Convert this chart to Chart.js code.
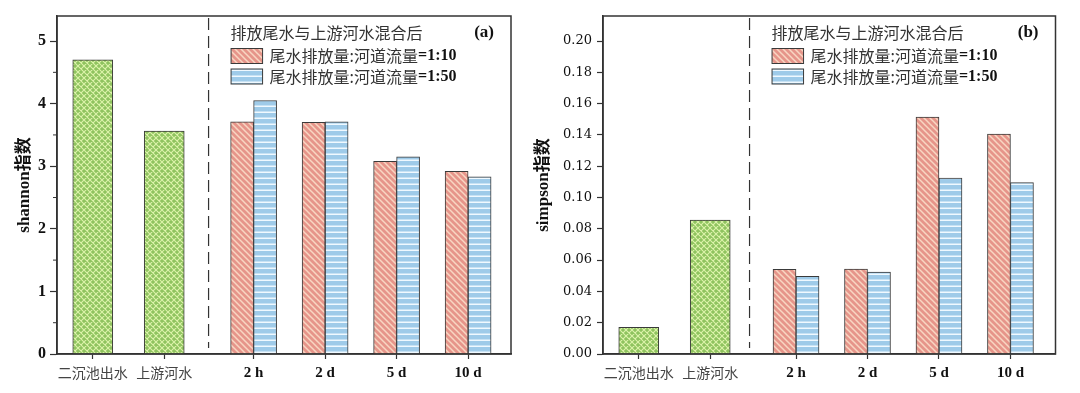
<!DOCTYPE html>
<html lang="zh">
<head>
<meta charset="utf-8">
<title>shannon / simpson 指数</title>
<script src="https://cdn.jsdelivr.net/npm/chart.js@4/dist/chart.umd.min.js"></script>
<style>
  html, body { margin: 0; padding: 0; background: #fff; }
  #painel { position: relative; width: 1080px; height: 393px; }
  .caixa { position: absolute; top: 0; height: 393px; }
  #caixa-a { left: 0; width: 530px; }
  #caixa-b { left: 530px; width: 550px; }
</style>
</head>
<body>
<div id="painel">
  <div class="caixa" id="caixa-a"><canvas id="grafico-a"></canvas></div>
  <div class="caixa" id="caixa-b"><canvas id="grafico-b"></canvas></div>
</div>
<script>
/* Dois painéis de barras: índice de shannon (a) e simpson (b). */

const CATEGORIAS = ["二沉池出水", "上游河水", "2 h", "2 d", "5 d", "10 d"];
const POS_A = [1, 2, 3.25, 4.25, 5.25, 6.25];
const POS_B = [1, 2, 3.2, 4.2, 5.2, 6.2];

const SERIES = ["尾水排放量:河道流量=1:10", "尾水排放量:河道流量=1:50"];
const LEGENDA_TITULO = "排放尾水与上游河水混合后";

const SHANNON_REF = [4.70, 3.56];
const SHANNON_110 = [3.71, 3.70, 3.08, 2.92];
const SHANNON_150 = [4.05, 3.71, 3.15, 2.83];

const SIMPSON_REF = [0.0171, 0.0856];
const SIMPSON_110 = [0.0541, 0.0543, 0.1514, 0.1406];
const SIMPSON_150 = [0.0497, 0.0524, 0.1125, 0.1095];

const CJK = "'Noto Sans CJK SC', sans-serif";
const SERIF = "'Liberation Serif', 'Noto Sans CJK SC', serif";

Chart.defaults.animation = false;
Chart.defaults.plugins.legend.display = false;
Chart.defaults.plugins.tooltip.enabled = false;

function padrao(tipo) {
  const c = document.createElement("canvas");
  c.width = 6; c.height = 6;
  const g = c.getContext("2d");
  if (tipo === "verde") {
    g.fillStyle = "#8fc35f"; g.fillRect(0, 0, 6, 6);
    g.strokeStyle = "#ddf3ab"; g.lineWidth = 1.1;
    g.beginPath();
    for (const k of [-6, 0, 6]) {
      g.moveTo(k - 1, -1); g.lineTo(k + 7, 7);
      g.moveTo(k - 1, 7); g.lineTo(k + 7, -1);
    }
    g.stroke();
  } else if (tipo === "vermelho") {
    g.fillStyle = "#e6958a"; g.fillRect(0, 0, 6, 6);
    g.strokeStyle = "#f8d6c2"; g.lineWidth = 1.5;
    g.beginPath();
    for (const k of [-6, 0, 6]) { g.moveTo(k - 1, -1); g.lineTo(k + 7, 7); }
    g.stroke();
  } else {
    g.fillStyle = "#9fcbe9"; g.fillRect(0, 0, 6, 6);
    g.fillStyle = "#f0f9ff"; g.fillRect(0, 3.5, 6, 1.5);
  }
  return g.createPattern(c, "repeat");
}

const PADRAO = { verde: padrao("verde"), vermelho: padrao("vermelho"), azul: padrao("azul") };

// moldura, linha tracejada, tiques menores, legenda e rótulo do painel
const extras = {
  id: "extras",
  afterDraw(chart, args, o) {
    const { ctx, chartArea: a, scales: { x, y } } = chart;
    ctx.save();
    ctx.strokeStyle = "#333";
    ctx.lineWidth = 1.5;
    ctx.strokeRect(a.left, a.top, a.right - a.left, a.bottom - a.top);

    const xd = x.getPixelForValue(o.divisa);
    ctx.lineWidth = 1.2;
    ctx.setLineDash([12, 6]);
    ctx.beginPath(); ctx.moveTo(xd, a.top + 2); ctx.lineTo(xd, a.bottom - 6); ctx.stroke();
    ctx.setLineDash([]);

    if (o.menores) {
      ctx.lineWidth = 1;
      for (const v of o.menores) {
        const py = y.getPixelForValue(v);
        ctx.beginPath(); ctx.moveTo(a.left - 4, py); ctx.lineTo(a.left, py); ctx.stroke();
      }
    }

    ctx.textBaseline = "middle";
    ctx.fillStyle = "#333";
    ctx.font = `16px ${CJK}`;
    ctx.fillText(LEGENDA_TITULO, xd + 22, 33);

    chart.data.datasets.slice(1).forEach((ds, i) => {
      const yy = 48.5 + i * 20.5;
      ctx.fillStyle = ds.backgroundColor;
      ctx.fillRect(xd + 22.5, yy, 31.5, 15);
      ctx.strokeStyle = "#3a3a3a"; ctx.lineWidth = 1;
      ctx.strokeRect(xd + 22.5, yy, 31.5, 15);
      const [pre, pos] = ds.label.split("=");
      ctx.fillStyle = "#333";
      ctx.font = `16px ${CJK}`;
      ctx.fillText(pre, xd + 61, yy + 7.5);
      const w = ctx.measureText(pre).width;
      ctx.fillStyle = "#111";
      ctx.font = `bold 16px ${SERIF}`;
      ctx.fillText("=" + pos, xd + 61 + w, yy + 7.5);
    });

    ctx.font = `bold 17px ${SERIF}`;
    ctx.fillStyle = "#111";
    ctx.textAlign = "right";
    ctx.fillText(o.rotulo, a.right - 17, 33);
    ctx.restore();
  },
};

function pontos(pos, valores, desloc) {
  return valores.map((v, i) => ({ x: pos[i + desloc], y: v }));
}

function montarGrafico(id, cfg) {
  const base = { borderColor: "#3a3a3a", borderWidth: 1, skipNull: true };
  new Chart(document.getElementById(id), {
    type: "bar",
    data: {
      datasets: [
        { ...base, label: "对照", data: pontos(cfg.pos, cfg.ref, 0),
          backgroundColor: PADRAO.verde, barThickness: 40 },
        { ...base, label: SERIES[0], data: pontos(cfg.pos, cfg.s110, 2),
          backgroundColor: PADRAO.vermelho, barThickness: 23 },
        { ...base, label: SERIES[1], data: pontos(cfg.pos, cfg.s150, 2),
          backgroundColor: PADRAO.azul, barThickness: 23 },
      ],
    },
    options: {
      responsive: true,
      maintainAspectRatio: false,
      devicePixelRatio: 1,
      layout: { padding: { top: 16, right: cfg.padDir, left: 0, bottom: 0 } },
      plugins: { extras: { divisa: cfg.divisa, rotulo: cfg.rotulo, menores: cfg.menores } },
      scales: {
        x: {
          type: "linear", min: 0.5, max: cfg.xMax, offset: false,
          afterBuildTicks: s => { s.ticks = cfg.pos.map(v => ({ value: v })); },
          afterFit: s => { s.height = 39; },
          ticks: {
            autoSkip: false, maxRotation: 0, padding: 5,
            callback: (v, i) => CATEGORIAS[i],
            font: c => c.index < 2 ? { family: CJK, size: 14 }
                                   : { family: SERIF, size: 15, weight: "bold" },
            color: c => c.index < 2 ? "#444" : "#111",
          },
          grid: { offset: false, drawOnChartArea: false, tickLength: 5, tickColor: "#333", tickWidth: 1.2 },
          border: { color: "#333", width: 1.5 },
        },
        y: {
          min: 0, max: cfg.yMax,
          afterFit: s => { s.width = cfg.larguraY; },
          ticks: {
            stepSize: cfg.passo, includeBounds: false, padding: cfg.padTick,
            callback: cfg.fmt, font: cfg.fonteTick, color: "#111",
          },
          grid: { drawOnChartArea: false, tickLength: cfg.tique, tickColor: "#333", tickWidth: 1.2 },
          border: { color: "#333", width: 1.5 },
          title: {
            display: true, text: cfg.tituloY, color: "#111",
            font: { family: SERIF, size: 17, weight: "bold" },
            padding: { top: cfg.padTitulo, bottom: 0 },
          },
        },
      },
    },
    plugins: [extras],
  });
}

montarGrafico("grafico-a", {
  pos: POS_A, ref: SHANNON_REF, s110: SHANNON_110, s150: SHANNON_150,
  xMax: 6.85, divisa: 2.62, rotulo: "(a)", menores: [0.5, 1.5, 2.5, 3.5, 4.5],
  yMax: 5.4, passo: 1, fmt: v => v.toFixed(0),
  fonteTick: { family: SERIF, size: 16, weight: "bold" },
  tituloY: "shannon指数", larguraY: 57, padDir: 19, padTick: 4, tique: 7, padTitulo: 14,
});

montarGrafico("grafico-b", {
  pos: POS_B, ref: SIMPSON_REF, s110: SIMPSON_110, s150: SIMPSON_150,
  xMax: 6.83, divisa: 2.55, rotulo: "(b)", menores: null,
  yMax: 0.216, passo: 0.02, fmt: v => v.toFixed(2),
  fonteTick: { family: "'DejaVu Serif', serif", size: 13 },
  tituloY: "simpson指数", larguraY: 73, padDir: 24.5, padTick: 5, tique: 6, padTitulo: 3,
});
</script>
</body>
</html>
